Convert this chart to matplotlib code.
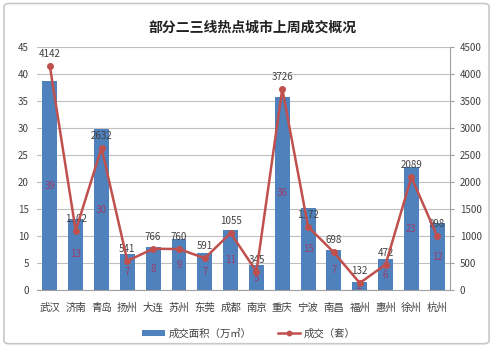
import matplotlib

matplotlib.use("Agg")

import matplotlib.pyplot as plt  # noqa: E402
from matplotlib.patches import FancyBboxPatch  # noqa: E402

plt.rcParams["font.family"] = ["Noto Sans CJK SC", "DejaVu Sans"]

cities = ["武汉", "济南", "青岛", "扬州", "大连", "苏州", "东莞", "成都",
          "南京", "重庆", "宁波", "南昌", "福州", "惠州", "徐州", "杭州"]
area = [38.6, 13.2, 29.8, 6.6, 8.0, 9.4, 6.9, 11.1,
        4.6, 35.8, 15.2, 7.4, 1.6, 5.7, 22.8, 12.4]
units = [4142, 1102, 2632, 541, 766, 760, 591, 1055,
         345, 3726, 1172, 698, 132, 472, 2089, 998]
left_ticks = list(range(0, 50, 5))
right_ticks = list(range(0, 5000, 500))

BAR_BLUE = "#4F81BD"
LINE_RED = "#C0504D"
LABEL_RED = "#9B3D6B"
GRID = "#BFBFBF"
TEXT = "#404040"

fig = plt.figure(figsize=(4.93, 3.5), dpi=100)
fig.patches.append(FancyBboxPatch((0.008, 0.018), 0.984, 0.972,
                                  boxstyle="round,pad=0,rounding_size=0.01",
                                  transform=fig.transFigure, fill=False,
                                  edgecolor="#C8C8C8", linewidth=1.2))

ax = fig.add_axes([0.075, 0.171, 0.838, 0.695])
ax2 = ax.twinx()

x = list(range(len(cities)))
bars = ax.bar(x, area, width=0.58, color=BAR_BLUE, zorder=2)
for xi, v in zip(x, area):
    ax.text(xi, v / 2, f"{round(v)}", ha="center", va="center",
            fontsize=7, color=LABEL_RED, zorder=5)

ax.set_ylim(0, 45)
ax.set_yticks(left_ticks)
ax.set_xlim(-0.5, len(cities) - 0.5)
ax.set_xticks(x)
ax.set_xticklabels(cities)
ax.grid(axis="y", color=GRID, linewidth=0.8, zorder=0)
ax.set_axisbelow(True)
ax.tick_params(axis="y", length=0, labelsize=7, labelcolor=TEXT, pad=6)
ax.tick_params(axis="x", length=0, labelsize=7.5, labelcolor=TEXT, pad=9)
for side in ["left", "top", "right"]:
    ax.spines[side].set_visible(False)
ax.spines["bottom"].set_color("#A0A0A0")

line, = ax2.plot(x, units, color=LINE_RED, linewidth=1.8, marker="o",
                 markersize=4, zorder=4)
for xi, v in zip(x, units):
    ax2.annotate(f"{v}", (xi, v), xytext=(0, 5), textcoords="offset points",
                 ha="center", va="bottom", fontsize=7, color=TEXT)
ax2.set_ylim(0, 4500)
ax2.set_yticks(right_ticks)
ax2.tick_params(axis="y", length=3, color="#A0A0A0", labelsize=7,
                labelcolor=TEXT, pad=4)
for side in ["left", "top", "bottom"]:
    ax2.spines[side].set_visible(False)
ax2.spines["right"].set_color("#A0A0A0")

fig.text(0.512, 0.922, "部分二三线热点城市上周成交概况", ha="center",
         va="center", fontsize=10, fontweight="bold", color="#202020")

fig.legend([bars, line], ["成交面积（万㎡）", "成交（套）"], loc="center",
           bbox_to_anchor=(0.505, 0.048), ncol=2, frameon=False, fontsize=7.5,
           handlelength=2.2, handleheight=0.5, columnspacing=2.5,
           handletextpad=0.3, labelcolor=TEXT, markerscale=0.8)

fig.savefig("out.png", dpi=100)
